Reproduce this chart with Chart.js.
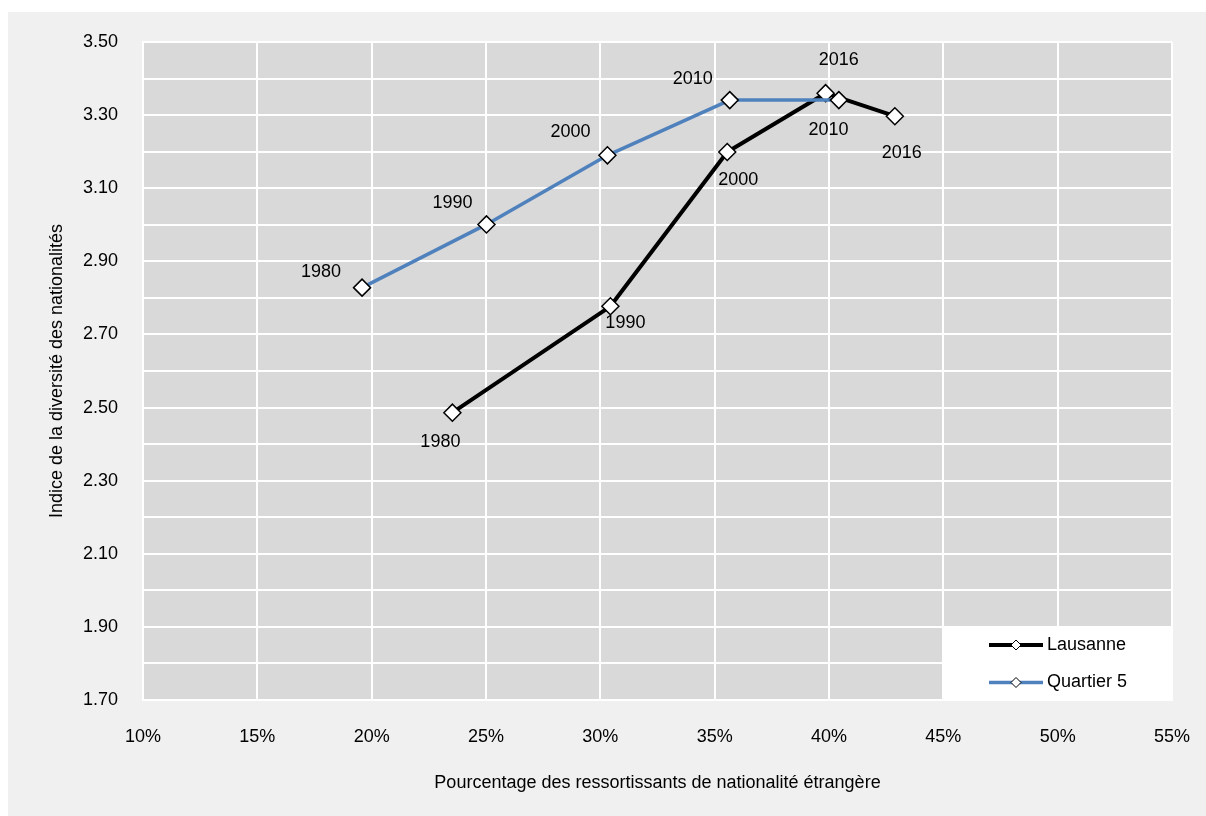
<!DOCTYPE html>
<html>
<head>
<meta charset="utf-8">
<script src="https://cdn.jsdelivr.net/npm/chart.js@4/dist/chart.umd.min.js"></script>
<style>
  html, body { margin: 0; padding: 0; background: #fff; }
  canvas { display: block; }
</style>
</head>
<body>
<canvas id="chart" width="1206" height="816"></canvas>
<script>
// years shown next to each point
const years = ['1980', '1990', '2000', '2010', '2016'];

// Lausanne: % of foreign nationals / diversity index
const lausanneX = [23.53, 30.44, 35.55, 39.85, 42.88];
const lausanneY = [2.486, 2.777, 3.199, 3.360, 3.297];

// Quartier 5
const quartierX = [19.58, 25.02, 30.31, 35.66, 40.43];
const quartierY = [2.828, 3.001, 3.190, 3.341, 3.341];

const seriesNames = ['Lausanne', 'Quartier 5'];

const FONT = "'Liberation Sans Narrow', 'Arial Narrow', 'Liberation Sans', Arial, sans-serif";
const FS = 18;

function toPoints(xs, ys) {
    return xs.map((x, i) => ({x: x, y: ys[i]}));
}

// where each year label sits relative to its point (px)
const labelOffsets = [
    [[-12, 29], [15, 17], [11, 28], [3, 37], [7, 37]],
    [[-41, -16], [-34, -21], [-37, -23], [-37, -21], [0, -40]]
];

const backgroundPlugin = {
    id: 'bg',
    beforeDraw(chart) {
        const ctx = chart.ctx;
        const a = chart.chartArea;
        ctx.save();
        ctx.fillStyle = '#ffffff';
        ctx.fillRect(0, 0, chart.width, chart.height);
        ctx.fillStyle = '#f0f0f0';
        ctx.fillRect(8, 12, chart.width - 8, chart.height - 12);
        ctx.fillStyle = '#d9d9d9';
        ctx.fillRect(a.left, a.top, a.right - a.left, a.bottom - a.top);
        ctx.restore();
    }
};

const yearLabelPlugin = {
    id: 'yearLabels',
    afterDatasetsDraw(chart) {
        const ctx = chart.ctx;
        ctx.save();
        ctx.font = FS + 'px ' + FONT;
        ctx.fillStyle = '#000';
        ctx.textAlign = 'center';
        ctx.textBaseline = 'middle';
        chart.data.datasets.forEach((ds, di) => {
            const meta = chart.getDatasetMeta(di);
            meta.data.forEach((pt, i) => {
                const off = labelOffsets[di][i];
                ctx.fillText(years[i], pt.x + off[0], pt.y + off[1]);
            });
        });
        ctx.restore();
    }
};

const legendPlugin = {
    id: 'boxLegend',
    afterDraw(chart) {
        const ctx = chart.ctx;
        const a = chart.chartArea;
        const boxL = a.right - 230, boxT = a.bottom - 73;
        ctx.save();
        ctx.fillStyle = '#ffffff';
        ctx.fillRect(boxL, boxT, a.right - boxL, a.bottom - boxT);
        ctx.font = FS + 'px ' + FONT;
        ctx.textBaseline = 'middle';
        ctx.textAlign = 'left';
        chart.data.datasets.forEach((ds, i) => {
            const y = boxT + 18 + i * 37.5;
            const x0 = boxL + 47, x1 = boxL + 101;
            ctx.strokeStyle = ds.borderColor;
            ctx.lineWidth = ds.borderWidth;
            ctx.beginPath();
            ctx.moveTo(x0, y);
            ctx.lineTo(x1, y);
            ctx.stroke();
            const cx = (x0 + x1) / 2, r = 5;
            ctx.beginPath();
            ctx.moveTo(cx - r, y);
            ctx.lineTo(cx, y - r);
            ctx.lineTo(cx + r, y);
            ctx.lineTo(cx, y + r);
            ctx.closePath();
            ctx.fillStyle = '#fff';
            ctx.fill();
            ctx.strokeStyle = '#000';
            ctx.lineWidth = 1;
            ctx.stroke();
            ctx.fillStyle = '#000';
            ctx.fillText(ds.label, x1 + 4, y);
        });
        ctx.restore();
    }
};

const ctx = document.getElementById('chart').getContext('2d');
const chart = new Chart(ctx, {
    type: 'line',
    data: {
        datasets: [{
            label: seriesNames[0],
            data: toPoints(lausanneX, lausanneY),
            borderColor: '#000000',
            borderWidth: 4,
            borderJoinStyle: 'round',
            pointStyle: 'rectRot',
            pointRadius: 8.5,
            pointBackgroundColor: '#ffffff',
            pointBorderColor: '#000000',
            pointBorderWidth: 1.5,
            fill: false,
            order: 1
        }, {
            label: seriesNames[1],
            data: toPoints(quartierX, quartierY),
            borderColor: '#4f81bd',
            borderWidth: 3.5,
            borderJoinStyle: 'round',
            pointStyle: 'rectRot',
            pointRadius: 8.5,
            pointBackgroundColor: '#ffffff',
            pointBorderColor: '#000000',
            pointBorderWidth: 1.5,
            fill: false,
            order: 0
        }]
    },
    options: {
        responsive: false,
        animation: false,
        layout: { padding: { left: 0, top: 42, right: 34, bottom: 0 } },
        plugins: {
            legend: { display: false },
            tooltip: { enabled: false }
        },
        scales: {
            x: {
                type: 'linear',
                min: 10,
                max: 55,
                afterFit(scale) {
                    scale.height = 116;
                    scale.paddingLeft = 0;
                    scale.paddingRight = 0;
                },
                grid: { color: '#ffffff', lineWidth: 2, drawTicks: false },
                border: { color: '#ffffff', width: 2 },
                ticks: {
                    stepSize: 5,
                    padding: 26,
                    color: '#000',
                    font: { family: FONT, size: FS },
                    callback: v => v + '%'
                },
                title: {
                    display: true,
                    text: 'Pourcentage des ressortissants de nationalité étrangère',
                    color: '#000',
                    font: { family: FONT, size: FS },
                    padding: { top: 0, bottom: 22 }
                }
            },
            y: {
                min: 1.7,
                max: 3.5,
                afterFit(scale) { scale.width = 143; },
                grid: { color: '#ffffff', lineWidth: 2, drawTicks: false },
                border: { color: '#ffffff', width: 2 },
                ticks: {
                    stepSize: 0.1,
                    padding: 25,
                    color: '#000',
                    font: { family: FONT, size: FS },
                    autoSkip: false,
                    callback: v => (Math.round(v * 10) % 2 === 1 ? v.toFixed(2) : '')
                },
                title: {
                    display: true,
                    text: 'Indice de la diversité des nationalités',
                    color: '#000',
                    font: { family: FONT, size: FS },
                    padding: { top: 46, bottom: 0 }
                }
            }
        }
    },
    plugins: [backgroundPlugin, yearLabelPlugin, legendPlugin]
});
</script>
</body>
</html>
